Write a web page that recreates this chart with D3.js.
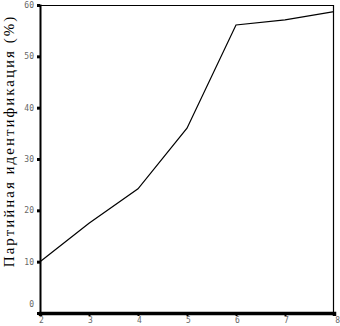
<!DOCTYPE html>
<html>
<head>
<meta charset="utf-8">
<script src="https://cdn.jsdelivr.net/npm/d3@7"></script>
<style>
  body { margin: 0; background: #fff; }
  svg { display: block; }
</style>
</head>
<body>
<div id="chart"></div>
<script>
// valores
const xVals = [2, 3, 4, 5, 6, 7, 8];
const yVals = [10, 17.5, 24.2, 36, 56.1, 57.1, 58.7];
const yTicks = [0, 10, 20, 30, 40, 50, 60];
const yTitle = 'Партийная идентификация (%)';

const W = 340, H = 326;
const margin = { top: 5, right: 6, bottom: 13, left: 40 };

const svg = d3.select('#chart').append('svg')
    .attr('width', W)
    .attr('height', H);

const x = d3.scaleLinear()
    .domain([2, 8])
    .range([margin.left, W - margin.right]);

const y = d3.scaleLinear()
    .domain([0, 60])
    .range([H - margin.bottom, margin.top]);

// moldura
svg.append('line')
    .attr('x1', x(2)).attr('x2', x(8))
    .attr('y1', y(60) + 0.5).attr('y2', y(60) + 0.5)
    .attr('stroke', '#000').attr('stroke-width', 1);
svg.append('line')
    .attr('x1', x(8) - 0.5).attr('x2', x(8) - 0.5)
    .attr('y1', y(60)).attr('y2', y(0))
    .attr('stroke', '#000').attr('stroke-width', 1.2);

// eixo y
const yAxis = svg.append('g')
    .attr('transform', `translate(${margin.left},0)`)
    .call(d3.axisLeft(y).tickValues(yTicks).tickSize(3).tickPadding(3));
yAxis.select('.domain').attr('stroke-width', 2);
yAxis.selectAll('.tick line').attr('stroke-width', 3);
yAxis.selectAll('.tick text')
    .style('font-family', 'DejaVu Sans Mono, monospace')
    .style('font-size', '8px')
    .attr('fill', '#666')
    .attr('dy', d => d === 0 ? '-0.8em' : '0.32em');

// eixo x
const xAxis = svg.append('g')
    .attr('transform', `translate(0,${y(0)})`)
    .call(d3.axisBottom(x).tickValues(xVals).tickFormat(d3.format('d')).tickSize(3).tickPadding(1));
xAxis.select('.domain').attr('stroke-width', 3.5);
xAxis.selectAll('.tick line').attr('stroke-width', 2);
xAxis.selectAll('.tick text')
    .style('font-family', 'DejaVu Sans Mono, monospace')
    .style('font-size', '8px')
    .attr('fill', '#666')
    .attr('dx', d => d === 8 ? '0.4em' : '0.1em');

// linha dos dados
const line = d3.line()
    .x((d, i) => x(xVals[i]))
    .y(d => y(d));

svg.append('path')
    .datum(yVals)
    .attr('fill', 'none')
    .attr('stroke', '#000')
    .attr('stroke-width', 1.2)
    .attr('d', line);

// título do eixo y
svg.append('text')
    .attr('transform', `translate(14,${141}) rotate(-90)`)
    .attr('text-anchor', 'middle')
    .style('font-family', 'Liberation Serif, serif')
    .style('font-size', '15px')
    .style('letter-spacing', '2px')
    .text(yTitle);
</script>
</body>
</html>
